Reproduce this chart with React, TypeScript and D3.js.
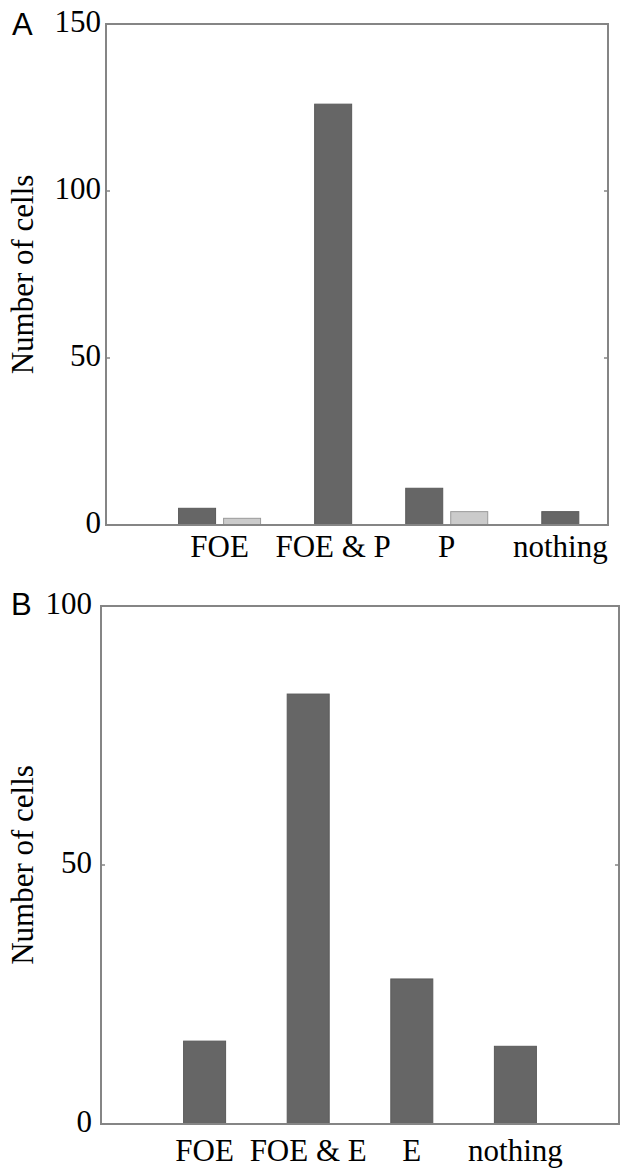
import React from "react";
import * as d3 from "d3";

const categoriesA = ["FOE", "FOE & P", "P", "nothing"];
const darkA = [5, 126, 11, 4];
const lightA = [2, 0, 4, 0];
const ticksA = [0, 50, 100, 150];

const categoriesB = ["FOE", "FOE & E", "E", "nothing"];
const valuesB = [16, 83, 28, 15];
const ticksB = [0, 50, 100];

const SERIF = "'Liberation Serif', 'Times New Roman', serif";
const SANS = "'Liberation Sans', Arial, sans-serif";
const FRAME = "#858585";
const DARK = "#666666";
const LIGHT = "#cbcbcb";

type PanelProps = {
  letter: string;
  letterX: number;
  letterY: number;
  left: number;
  right: number;
  top: number;
  bottom: number;
  yMax: number;
  ticks: number[];
  xMax: number;
  barW: number;
  gap: number;
  labelGap: number;
  catBaseline: number;
  categories: string[];
  dark: number[];
  light: number[] | null;
};

function Panel(p: PanelProps) {
  const y = d3.scaleLinear().domain([0, p.yMax]).range([p.bottom, p.top]);
  const x = d3.scaleLinear().domain([0, p.xMax]).range([p.left, p.right]);
  const bars: { x: number; v: number; fill: string; key: string }[] = [];
  p.categories.forEach((c, i) => {
    const cx = x(i + 1);
    const lv = p.light ? p.light[i] : 0;
    if (lv > 0) {
      bars.push({ x: cx - p.gap / 2 - p.barW, v: p.dark[i], fill: DARK, key: c + "d" });
      bars.push({ x: cx + p.gap / 2, v: lv, fill: LIGHT, key: c + "l" });
    } else {
      bars.push({ x: cx - p.barW / 2, v: p.dark[i], fill: DARK, key: c + "d" });
    }
  });
  const midY = (p.top + p.bottom) / 2;
  return (
    <g>
      <text x={p.letterX} y={p.letterY} fontFamily={SANS} fontSize={31} fill="#000">
        {p.letter}
      </text>
      <text
        transform={`translate(33,${midY}) rotate(-90)`}
        textAnchor="middle"
        fontFamily={SERIF}
        fontSize={31}
        fill="#000"
      >
        Number of cells
      </text>
      {bars.map((b) => (
        <rect
          key={b.key}
          x={b.x}
          y={y(b.v)}
          width={p.barW}
          height={y(0) - y(b.v)}
          fill={b.fill}
          stroke={b.fill === DARK ? "#5a5a5a" : "#9a9a9a"}
          strokeWidth={1}
        />
      ))}
      <rect
        x={p.left}
        y={p.top}
        width={p.right - p.left}
        height={p.bottom - p.top}
        fill="none"
        stroke={FRAME}
        strokeWidth={2}
      />
      {p.ticks.map((t) => (
        <g key={t}>
          <line x1={p.left} x2={p.left + 4} y1={y(t)} y2={y(t)} stroke={FRAME} strokeWidth={1.5} />
          <line x1={p.right} x2={p.right - 4} y1={y(t)} y2={y(t)} stroke={FRAME} strokeWidth={1.5} />
          <text
            x={p.left - p.labelGap}
            y={y(t) - 3}
            textAnchor="end"
            dominantBaseline="central"
            fontFamily={SERIF}
            fontSize={31}
            fill="#000"
          >
            {t}
          </text>
        </g>
      ))}
      {p.categories.map((c, i) => (
        <text
          key={c}
          x={x(i + 1)}
          y={p.catBaseline}
          textAnchor="middle"
          fontFamily={SERIF}
          fontSize={31}
          fill="#000"
        >
          {c}
        </text>
      ))}
    </g>
  );
}

export default function App() {
  return (
    <svg
      width={622}
      height={1170}
      style={{ position: "absolute", left: 0, top: 0, background: "#fff" }}
    >
      <rect x={0} y={0} width={622} height={1170} fill="#fff" />
      <Panel
        letter="A"
        letterX={12}
        letterY={35}
        left={106}
        right={608}
        top={24}
        bottom={525}
        yMax={150}
        ticks={ticksA}
        xMax={4.42}
        barW={37}
        gap={8}
        labelGap={5}
        catBaseline={557}
        categories={categoriesA}
        dark={darkA}
        light={lightA}
      />
      <Panel
        letter="B"
        letterX={11}
        letterY={615}
        left={101}
        right={619}
        top={606}
        bottom={1124}
        yMax={100}
        ticks={ticksB}
        xMax={5}
        barW={42}
        gap={0}
        labelGap={9}
        catBaseline={1161}
        categories={categoriesB}
        dark={valuesB}
        light={null}
      />
    </svg>
  );
}
